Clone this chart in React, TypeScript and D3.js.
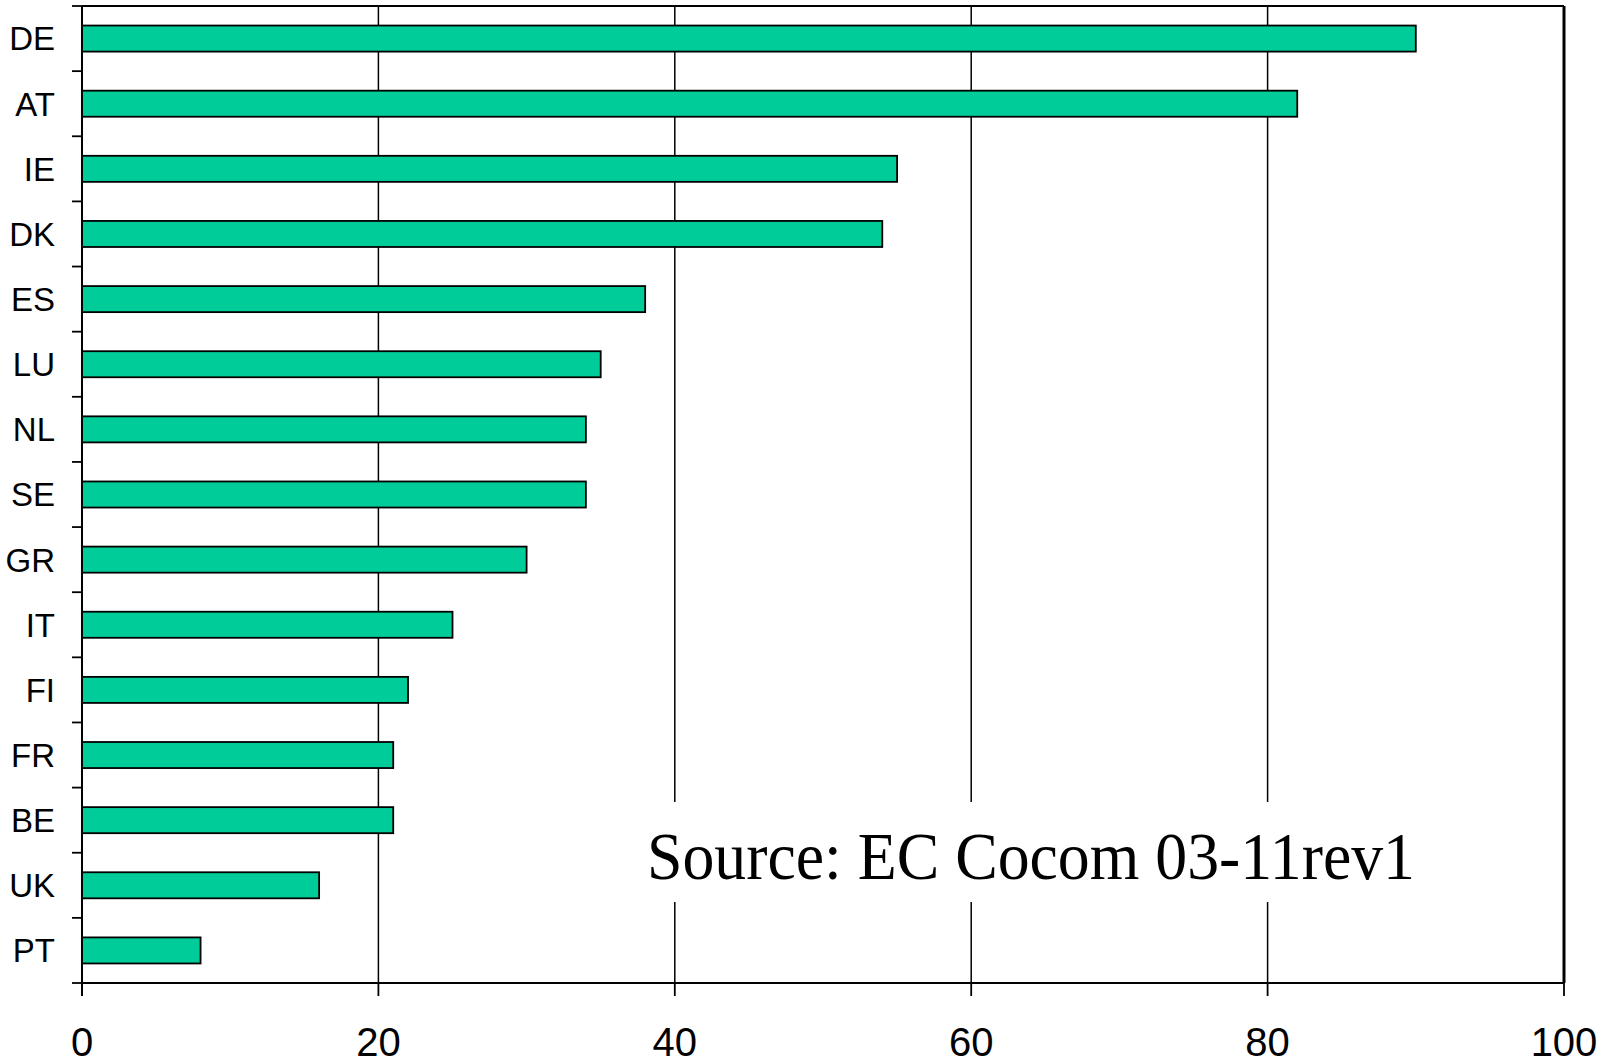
import React, { useEffect, useRef } from 'react';
import * as d3 from 'd3';

const countries = ['DE', 'AT', 'IE', 'DK', 'ES', 'LU', 'NL', 'SE', 'GR', 'IT', 'FI', 'FR', 'BE', 'UK', 'PT'];
const values = [90, 82, 55, 54, 38, 35, 34, 34, 30, 25, 22, 21, 21, 16, 8];
const xTicks = [0, 20, 40, 60, 80, 100];
const sourceNote = 'Source: EC Cocom 03-11rev1';

const W = 1617;
const H = 1063;

const Chart = () => {
  const ref = useRef<SVGSVGElement | null>(null);

  useEffect(() => {
    if (!ref.current) return;
    const svg = d3.select(ref.current);
    svg.selectAll('*').remove();

    const left = 82, right = 1564, top = 6, bottom = 983;

    const x = d3.scaleLinear().domain([0, 100]).range([left, right]);
    const y = d3.scaleBand().domain(countries).range([top, bottom]).paddingInner(0.6).paddingOuter(0.3);
    const step = (bottom - top) / countries.length;

    // gridlines
    svg.append('g')
      .selectAll('line')
      .data(xTicks.slice(1, -1))
      .enter()
      .append('line')
      .attr('x1', (d) => x(d)).attr('x2', (d) => x(d))
      .attr('y1', top).attr('y2', bottom)
      .attr('stroke', '#000').attr('stroke-width', 1.5);

    // frame top / right
    svg.append('line').attr('x1', left).attr('x2', right).attr('y1', top).attr('y2', top)
      .attr('stroke', '#000').attr('stroke-width', 2);
    svg.append('line').attr('x1', right).attr('x2', right).attr('y1', top).attr('y2', bottom)
      .attr('stroke', '#000').attr('stroke-width', 3);

    // bars
    svg.append('g')
      .selectAll('rect')
      .data(countries)
      .enter()
      .append('rect')
      .attr('x', x(0))
      .attr('y', (d) => y(d)!)
      .attr('width', (d, i) => x(values[i]) - x(0))
      .attr('height', y.bandwidth())
      .attr('fill', '#00CC99')
      .attr('stroke', '#000')
      .attr('stroke-width', 1.8);

    // white box for source note
    svg.append('rect').attr('x', 645).attr('y', 802).attr('width', 780).attr('height', 100).attr('fill', '#fff');
    svg.append('text')
      .attr('x', 647).attr('y', 879)
      .attr('font-family', '"Liberation Serif", "Times New Roman", serif')
      .attr('font-size', 67)
      .attr('textLength', 768)
      .attr('lengthAdjust', 'spacingAndGlyphs')
      .text(sourceNote);

    // x axis
    const xAxis = svg.append('g');
    xAxis.append('line').attr('x1', left).attr('x2', right).attr('y1', bottom).attr('y2', bottom)
      .attr('stroke', '#000').attr('stroke-width', 2);
    xAxis.selectAll('line.tick')
      .data(xTicks)
      .enter()
      .append('line')
      .attr('class', 'tick')
      .attr('x1', (d) => x(d)).attr('x2', (d) => x(d))
      .attr('y1', bottom).attr('y2', bottom + 13)
      .attr('stroke', '#000').attr('stroke-width', 1.8);
    xAxis.selectAll('text')
      .data(xTicks)
      .enter()
      .append('text')
      .attr('x', (d) => x(d))
      .attr('y', 1056)
      .attr('text-anchor', 'middle')
      .attr('font-family', '"Liberation Sans", Arial, sans-serif')
      .attr('font-size', 40)
      .text((d) => d);

    // y axis
    const yAxis = svg.append('g');
    yAxis.append('line').attr('x1', left).attr('x2', left).attr('y1', top).attr('y2', bottom + 13)
      .attr('stroke', '#000').attr('stroke-width', 2);
    yAxis.selectAll('line.tick')
      .data(d3.range(countries.length + 1))
      .enter()
      .append('line')
      .attr('class', 'tick')
      .attr('x1', left - 10).attr('x2', left)
      .attr('y1', (i) => top + i * step).attr('y2', (i) => top + i * step)
      .attr('stroke', '#000').attr('stroke-width', 1.8);
    yAxis.selectAll('text')
      .data(countries)
      .enter()
      .append('text')
      .attr('x', 55)
      .attr('y', (d) => y(d)! + y.bandwidth() / 2)
      .attr('dy', '0.36em')
      .attr('text-anchor', 'end')
      .attr('font-family', '"Liberation Sans", Arial, sans-serif')
      .attr('font-size', 33)
      .text((d) => d);
  }, []);

  return <svg ref={ref} width={W} height={H} style={{ position: 'absolute', left: 0, top: 0, background: '#fff' }} />;
};

export default function App() {
  return <Chart />;
}
